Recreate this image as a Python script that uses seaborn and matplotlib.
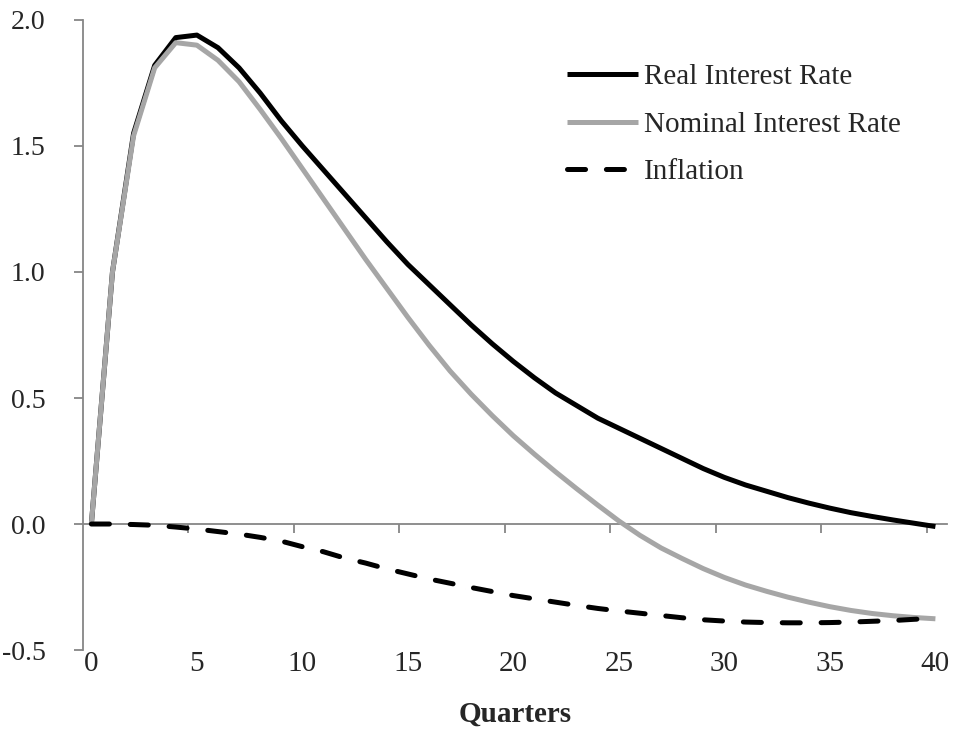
import numpy as np
import pandas as pd
import matplotlib
matplotlib.use("Agg")
import matplotlib.pyplot as plt
import seaborn as sns

# impulse responses, quarters 0..40
quarters = list(range(41))
real_rate = [0.0, 1.00, 1.55, 1.82, 1.93, 1.94, 1.89, 1.81, 1.71, 1.60,
             1.50, 1.405, 1.31, 1.215, 1.12, 1.03, 0.95, 0.87, 0.79, 0.715,
             0.645, 0.58, 0.52, 0.47, 0.42, 0.38, 0.34, 0.30, 0.26, 0.22,
             0.185, 0.155, 0.13, 0.105, 0.083, 0.063, 0.045, 0.03, 0.016, 0.003,
             -0.01]
nominal_rate = [0.0, 1.00, 1.54, 1.81, 1.91, 1.90, 1.84, 1.755, 1.645, 1.53,
                1.41, 1.29, 1.17, 1.05, 0.935, 0.82, 0.71, 0.607, 0.515, 0.43,
                0.35, 0.277, 0.207, 0.14, 0.075, 0.012, -0.045, -0.095, -0.137, -0.177,
                -0.212, -0.242, -0.267, -0.29, -0.31, -0.328, -0.343, -0.355, -0.364, -0.371,
                -0.376]
inflation = [0.0, 0.0, -0.002, -0.005, -0.012, -0.02, -0.03, -0.04, -0.053, -0.068,
             -0.09, -0.11, -0.135, -0.155, -0.178, -0.198, -0.218, -0.235, -0.252, -0.268,
             -0.284, -0.297, -0.31, -0.323, -0.335, -0.345, -0.354, -0.363, -0.372, -0.38,
             -0.385, -0.389, -0.391, -0.392, -0.392, -0.391, -0.389, -0.386, -0.383, -0.378,
             -0.374]
series_names = ["Real Interest Rate", "Nominal Interest Rate", "Inflation"]

df = pd.DataFrame({
    "Quarters": quarters * 3,
    "value": real_rate + nominal_rate + inflation,
    "series": [s for s in series_names for _ in quarters],
})

sns.set_style("white")
plt.rcParams["font.family"] = ["Liberation Serif", "DejaVu Serif"]
plt.rcParams["axes.unicode_minus"] = False
plt.rcParams["lines.scale_dashes"] = False

fig = plt.figure(figsize=(9.56, 7.34), dpi=100)
ax = fig.add_axes([0.0863, 0.1144, 0.9043, 0.8584])

palette = {"Real Interest Rate": "black", "Nominal Interest Rate": "#a6a6a6", "Inflation": "black"}
dashes = {"Real Interest Rate": "", "Nominal Interest Rate": "", "Inflation": (13, 15)}
sns.lineplot(data=df, x="Quarters", y="value", hue="series", style="series",
             palette=palette, dashes=dashes, linewidth=3.6, ax=ax,
             dash_capstyle="round", solid_capstyle="butt")

grey = "#868686"
ax.set_xlim(-0.42, 40.55)
ax.set_ylim(-0.5, 2.0)
for s in ["top", "right", "bottom"]:
    ax.spines[s].set_visible(False)
ax.spines["left"].set_color(grey)
ax.spines["left"].set_linewidth(1.3)

ax.set_xticks(range(0, 41, 5))
ax.tick_params(axis="x", length=0, labelsize=21, pad=1)
ax.set_yticks(np.arange(-0.5, 2.01, 0.5))
ax.set_yticklabels([f"{v:.1f}" for v in np.arange(-0.5, 2.01, 0.5)])
ax.tick_params(axis="y", direction="out", length=6.5, width=1.3, color=grey,
               labelsize=20, pad=20, left=True)
ax.set_xlabel("Quarters", fontsize=21, fontweight="bold", labelpad=17)
ax.set_ylabel("")

# horizontal axis line through zero with its tick marks
zero = ax.secondary_xaxis(0.2)
zero.set_xticks([k * 5 - 0.42 for k in range(1, 9)])
zero.tick_params(direction="out", length=6.5, width=1.3, color=grey, labelbottom=False)
zero.spines["bottom"].set_color(grey)
zero.spines["bottom"].set_linewidth(1.3)

leg = ax.legend(loc="upper left", bbox_to_anchor=(0.56, 0.93), frameon=False,
                fontsize=21, handlelength=2.45, handletextpad=0.2,
                labelspacing=0.72, borderpad=0, borderaxespad=0, title=None)
for h in leg.get_lines():
    h.set_linewidth(3.6)

fig.savefig("out.png", dpi=100)
